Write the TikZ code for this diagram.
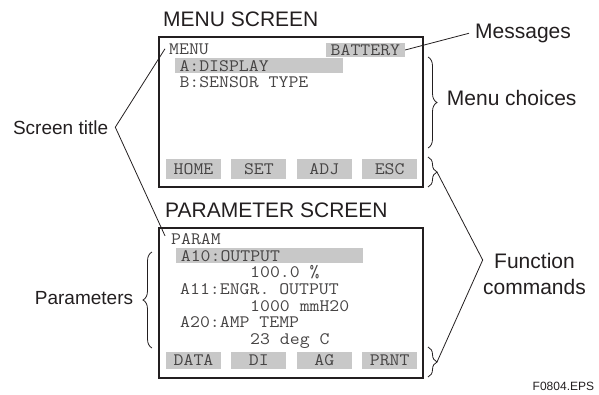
\documentclass[tikz,border=0pt]{standalone}
\usepackage{fontspec}
\setmainfont{Liberation Sans}
\setmonofont{Latin Modern Mono}[FakeStretch=1.1]
\usetikzlibrary{positioning, decorations.pathreplacing}
\definecolor{ink}{RGB}{35,31,32}
\definecolor{lcdink}{RGB}{70,68,68}
\definecolor{lcdgray}{RGB}{200,200,200}
\tikzset{
  screen/.style={rectangle, draw=ink, line width=1.1pt, minimum width=264pt,
    minimum height=150pt},
  scrtitle/.style={font=\fontsize{21}{25}\selectfont, text=ink, inner sep=0pt},
  lcd/.style={font=\fontsize{17.5}{20}\selectfont\ttfamily\frenchspacing,
    text=lcdink, inner sep=0pt},
  softkey/.style={lcd, fill=lcdgray, minimum width=55pt, minimum height=20pt},
  hlrow/.style={lcd, fill=lcdgray, align=left, inner xsep=5pt, minimum height=15pt},
  note/.style={font=\fontsize{21}{26}\selectfont, text=ink, inner sep=0pt},
  notesm/.style={font=\fontsize{19}{23}\selectfont, text=ink, inner sep=0pt},
  lead/.style={draw=ink, line width=0.8pt},
  brc/.style={draw=ink, line width=0.8pt, decorate, decoration={brace, amplitude=9pt}},
}
\begin{document}
\begin{tikzpicture}[x=1pt, y=-1pt]
  \useasboundingbox (0,0) rectangle (599,394);

  % Menu screen
  \node[scrtitle, anchor=base west] (menutitle) at (163,26.7) {MENU SCREEN};
  \node[screen] (menuscr) at (291,112) {};
  \node[lcd, anchor=base west] (menutxt) at (169,54) {MENU};
  \node[lcd, fill=lcdgray, minimum width=79pt, minimum height=14.6pt] (batt) at (365.4,50) {BATTERY};
  \node[hlrow, text width=158.4pt, anchor=west] (disp) at (174.3,65.8) {A:DISPLAY};
  \node[lcd, anchor=base west] (sens) at (179.3,87.5) {B:SENSOR TYPE};

  % Menu soft keys
  \node[softkey] (home) at (193.5,169.3) {HOME};
  \node[softkey, right=10pt of home] (set) {SET};
  \node[softkey, right=10pt of set] (adj) {ADJ};
  \node[softkey, right=10pt of adj] (esc) {ESC};

  % Parameter screen
  \node[scrtitle, anchor=base west] (partitle) at (165,217.7) {PARAMETER SCREEN};
  \node[screen] (parscr) at (291,303) {};
  \node[lcd, anchor=base west] (partxt) at (171,244) {PARAM};
  \node[hlrow, text width=177pt, anchor=west] (aten) at (175.7,255.8) {A10:OUTPUT};
  \node[lcd, anchor=base west] (vten) at (250,277.7) {100.0 \%};
  \node[lcd, anchor=base west] (aeleven) at (180,294.3) {A11:ENGR. OUTPUT};
  \node[lcd, anchor=base west] (veleven) at (250,311) {1000 mmH20};
  \node[lcd, anchor=base west] (atwenty) at (180,327.7) {A20:AMP TEMP};
  \node[lcd, anchor=base west] (vtwenty) at (250,344.3) {23 deg C};

  % Parameter soft keys
  \node[softkey, minimum height=17pt] (data) at (193.5,360.5) {DATA};
  \node[softkey, minimum height=17pt, right=10pt of data] (di) {DI};
  \node[softkey, minimum height=17pt, right=10pt of di] (ag) {AG};
  \node[softkey, minimum height=17pt, right=10pt of ag] (prnt) {PRNT};

  % Labels
  \node[notesm, anchor=base east] (sttl) at (108.3,134) {Screen title};
  \node[notesm, anchor=base east] (parlbl) at (133.3,304.5) {Parameters};
  \node[note, anchor=base west] (msg) at (475,38.3) {Messages};
  \node[note, anchor=base west] (mchoice) at (446.7,105) {Menu choices};
  \node[note, align=center] (fcmd) at (534.5,274.3) {Function\\commands};
  \node[font=\fontsize{12}{14}\selectfont, text=ink, inner sep=0pt, anchor=base east] (figno) at (594.3,390.7) {F0804.EPS};

  % Braces
  \draw[brc] (428,57) -- (428,148);
  \draw[brc] (428,157) -- (428,187);
  \draw[brc] (428,347) -- (428,377);
  \draw[brc] (152,348) -- (152,252);
  \coordinate (mfb) at (437,172);
  \coordinate (pfb) at (437,362);
  \coordinate (fcv) at (482.7,260);

  % Leader lines
  \draw[lead] (batt.east) -- ([xshift=-6pt]msg.west);
  \draw[lead] ([xshift=-4pt]menutxt.west) -- ([xshift=7pt]sttl.east)
    -- ([shift={(-6pt,-3pt)}]partxt.north west);
  \draw[lead] (mfb) -- (fcv) -- (pfb);
\end{tikzpicture}
\end{document}
